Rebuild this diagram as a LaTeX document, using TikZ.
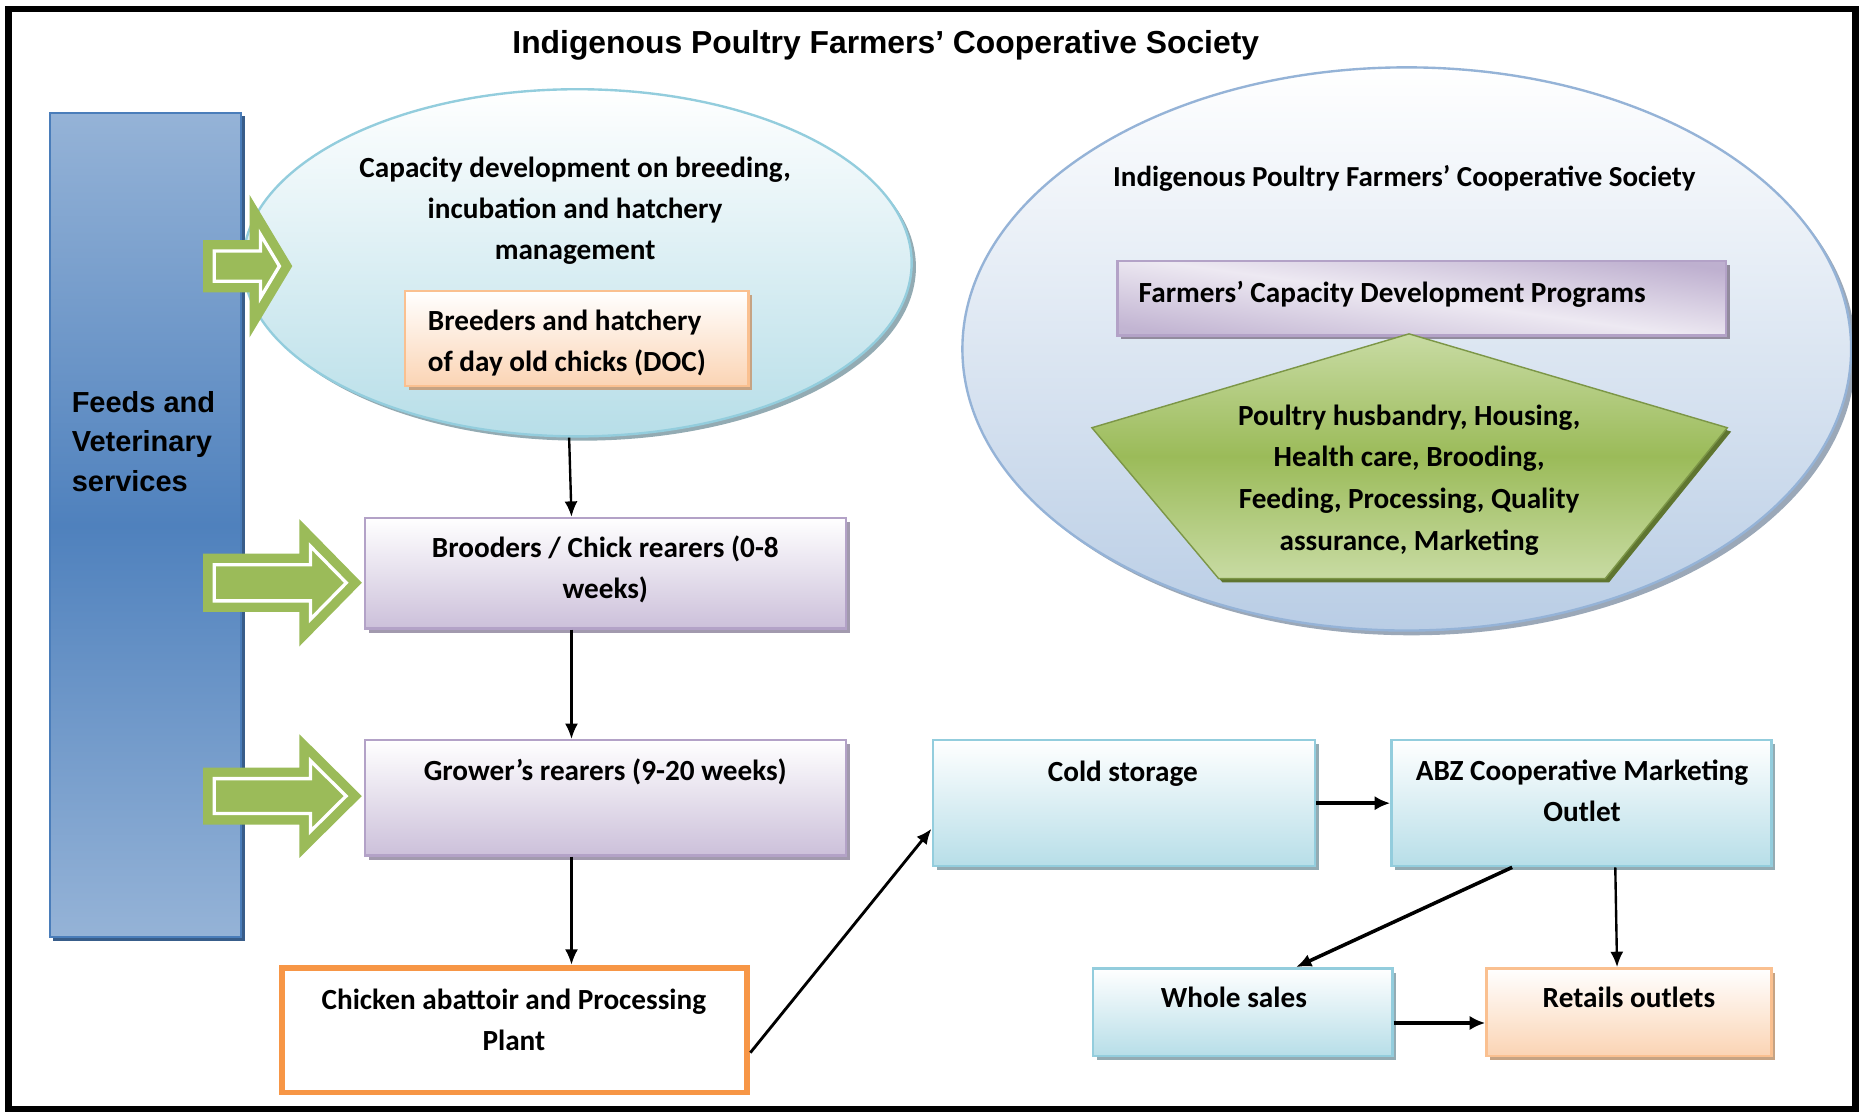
\documentclass[tikz,border=0pt]{standalone}
\usepackage{fontspec}
\usetikzlibrary{shapes.geometric,arrows.meta,shadows}
\newfontfamily\calib{Carlito}
\newfontfamily\arialf{Liberation Sans}
\definecolor{lbFill}{HTML}{B7DEE8}
\definecolor{lbDraw}{HTML}{93CDDD}
\definecolor{lbShadow}{HTML}{93ABB3}
\definecolor{puFill}{HTML}{CCC0DA}
\definecolor{puDraw}{HTML}{B3A2C7}
\definecolor{puShadow}{HTML}{A29AAE}
\definecolor{peFill}{HTML}{FBD4B4}
\definecolor{peDraw}{HTML}{FAC090}
\definecolor{peShadow}{HTML}{C6A383}
\definecolor{barLight}{HTML}{95B3D7}
\definecolor{barDark}{HTML}{4F81BD}
\definecolor{barDraw}{HTML}{4A7DBA}
\definecolor{barShadow}{HTML}{385D8A}
\definecolor{socFill}{HTML}{B9CDE5}
\definecolor{socDraw}{HTML}{95B3D7}
\definecolor{socShadow}{HTML}{9BA8B8}
\definecolor{grn}{HTML}{9BBB59}
\definecolor{lgrn}{HTML}{C8DBA3}
\definecolor{dgrn}{HTML}{5F7530}
\definecolor{orng}{HTML}{F79646}
\newcommand{\ctext}[2]{\parbox[t]{#1}{\centering #2}}
\newcommand{\ltext}[2]{\parbox[t]{#1}{\raggedright #2}}
% x0 (tail), x1 (head back), x2 (tip), yc, shaft half height, head half height
\newcommand{\greenarrow}[6]{%
  \fill[grn] (#1,#4-#5) -- (#2,#4-#5) -- (#2,#4-#6) -- (#3,#4) -- (#2,#4+#6) -- (#2,#4+#5) -- (#1,#4+#5) -- cycle;%
  \pgfmathsetmacro\gaD{9.3}%
  \pgfmathsetmacro\gaL{#3-#2}%
  \pgfmathsetmacro\gaE{sqrt(\gaL*\gaL+#6*#6)}%
  \pgfmathsetmacro\gaTip{#3-\gaD*\gaE/#6}%
  \pgfmathsetmacro\gaBarb{(\gaL-\gaD*\gaE/#6-\gaD)*#6/\gaL}%
  \pgfmathsetmacro\gaTail{#1+\gaD}%
  \pgfmathsetmacro\gaBack{#2+\gaD}%
  \pgfmathsetmacro\gaS{#5-\gaD}%
  \draw[grinner] (\gaTail,#4-\gaS) -- (\gaBack,#4-\gaS) -- (\gaBack,#4-\gaBarb) -- (\gaTip,#4) -- (\gaBack,#4+\gaBarb) -- (\gaBack,#4+\gaS) -- (\gaTail,#4+\gaS) -- cycle;%
}
\begin{document}
\begin{tikzpicture}[x=0.5pt,y=-0.5pt,
  txt/.style={font=\calib\bfseries\fontsize{12.3}{17.25}\selectfont, inner sep=0pt, anchor=base},
  titlefont/.style={font=\arialf\bfseries\fontsize{13.4}{16}\selectfont, inner sep=0pt, anchor=base},
  feedsfont/.style={font=\arialf\bfseries\fontsize{12.2}{16.7}\selectfont, inner sep=0pt, anchor=base west},
  basebox/.style={rectangle, inner sep=0pt, line width=1pt},
  bluebox/.style={basebox, draw=lbDraw, top color=white, bottom color=lbFill,
    general shadow={fill=lbShadow, shadow xshift=1.6pt, shadow yshift=-1.8pt}},
  purplebox/.style={basebox, draw=puDraw, top color=white, bottom color=puFill,
    general shadow={fill=puShadow, shadow xshift=1.6pt, shadow yshift=-1.8pt}},
  peachbox/.style={basebox, draw=peDraw, top color=white, bottom color=peFill,
    general shadow={fill=peShadow, shadow xshift=1.6pt, shadow yshift=-1.8pt}},
  grinner/.style={draw=white, fill=grn, line width=1.4pt, line join=miter},
  conn/.style={-{Latex[length=6.5pt,width=5.5pt]}, line width=1pt},
  thickconn/.style={-{Latex[length=6.5pt,width=6pt]}, line width=1.8pt}
]
\useasboundingbox (0,0) rectangle (1568,936);
\fill[white] (0,0) rectangle (1568,936);

% title
\node[titlefont] (title) at (745.5,45) {Indigenous Poultry Farmers’ Cooperative Society};

% left bar
\node[rectangle, inner sep=0pt, draw=barDraw, line width=0.8pt, minimum width=80.5pt, minimum height=347pt,
  top color=barLight, bottom color=barLight, middle color=barDark,
  general shadow={fill=barShadow, shadow xshift=1.5pt, shadow yshift=-1.5pt}] (feeds) at (122.5,442) {};
\node[feedsfont] (feedstxt) at (60,347) {\ltext{75pt}{Feeds and\\Veterinary\\services}};

% capacity ellipse
\node[ellipse, inner sep=0pt, draw=lbDraw, line width=1pt, minimum width=281.3pt, minimum height=146.1pt,
  top color=white, bottom color=lbFill,
  general shadow={fill=lbShadow, shadow xshift=1.8pt, shadow yshift=-1.8pt}] (capdev) at (486,221.2) {};
\node[txt] (capdevtxt) at (484,149.3) {\ctext{220pt}{Capacity development on breeding,\\incubation and hatchery\\management}};
\node[peachbox, minimum width=144.5pt, minimum height=40pt] (breeders) at (485.5,285) {};
\node[txt, anchor=base west] (breederstxt) at (359.7,277.8) {\ltext{140pt}{Breeders and hatchery\\of day old chicks (DOC)}};

% rearing chain
\node[purplebox, minimum width=202.5pt, minimum height=46.5pt] (brooders) at (509.5,482.5) {};
\node[txt] (broodertxt) at (509.5,469) {\ctext{200pt}{Brooders / Chick rearers (0-8\\weeks)}};
\node[purplebox, minimum width=202.5pt, minimum height=48.5pt] (grower) at (509.5,671.5) {};
\node[txt] (growertxt) at (509.5,657) {Grower’s rearers (9-20 weeks)};
\node[rectangle, inner sep=0pt, draw=orng, line width=2.5pt, fill=white, minimum width=196pt, minimum height=52.5pt] (abattoir) at (433,867) {};
\node[txt] (abattoirtxt) at (432.5,850) {\ctext{190pt}{Chicken abattoir and Processing\\Plant}};

% marketing chain
\node[bluebox, minimum width=161pt, minimum height=53pt] (cold) at (946,676) {};
\node[txt] (coldtxt) at (945,657.7) {Cold storage};
\node[bluebox, minimum width=160pt, minimum height=53pt] (abz) at (1331,676) {};
\node[txt] (abztxt) at (1331.5,657) {\ctext{158pt}{ABZ Cooperative Marketing\\Outlet}};
\node[bluebox, minimum width=126pt, minimum height=36.8pt] (whole) at (1046,851.8) {};
\node[txt] (wholetxt) at (1038.5,848) {Whole sales};
\node[peachbox, minimum width=120pt, minimum height=36.8pt] (retail) at (1371,851.8) {};
\node[txt] (retailtxt) at (1371,848) {Retails outlets};

% society ellipse
\node[ellipse, inner sep=0pt, draw=socDraw, line width=1pt, minimum width=374pt, minimum height=237pt,
  top color=white, bottom color=socFill,
  general shadow={fill=socShadow, shadow xshift=2pt, shadow yshift=-2pt}] (society) at (1184,293.7) {};
\node[txt, font=\calib\bfseries\fontsize{12.2}{17.25}\selectfont] (societytxt) at (1182,156.7) {Indigenous Poultry Farmers’ Cooperative Society};
\node[rectangle, inner sep=0pt, draw=puDraw, line width=1pt, minimum width=256.2pt, minimum height=31.25pt,
  top color=puDraw!85, bottom color=puDraw!80, middle color=puFill!35, shading angle=-8,
  general shadow={fill=puShadow!90!black, shadow xshift=1.6pt, shadow yshift=-1.6pt}] (programs) at (1196.6,251.1) {};
\node[txt, anchor=base west] (programstxt) at (958,255) {Farmers’ Capacity Development Programs};
\draw[draw=grn!80!black, line width=0.6pt, top color=lgrn, bottom color=lgrn, middle color=grn,
  general shadow={fill=dgrn, shadow xshift=1.6pt, shadow yshift=-1.6pt}]
  (1185.9,281) -- (1453.8,360) -- (1351,487) -- (1025.7,487) -- (919,360) -- cycle;
\node[txt, font=\calib\bfseries\fontsize{12.3}{17.5}\selectfont] (topicstxt) at (1186,358) {\ctext{200pt}{Poultry husbandry, Housing,\\Health care, Brooding,\\Feeding, Processing, Quality\\assurance, Marketing}};

% green block arrows
\greenarrow{171}{210}{246}{224}{22}{60}
\greenarrow{171}{252}{304.5}{490.5}{24.5}{53.5}
\greenarrow{171}{252}{304.5}{670}{24}{52}

% connectors
\draw[conn] ([xshift=-3.5pt]capdev.south) -- ([xshift=-14.25pt]brooders.north);
\draw[conn] ([xshift=-14.25pt]brooders.south) -- ([xshift=-14.25pt]grower.north);
\draw[conn] ([xshift=-14.25pt]grower.south) -- ([xshift=-14.25pt]grower.south |- abattoir.north);
\draw[conn, line width=1.2pt] ([yshift=-9.5pt]abattoir.east) -- ([yshift=-10.75pt]cold.west);
\draw[thickconn] (cold.east) -- (abz.west);
\draw[conn, line width=1.5pt] ([xshift=-29.15pt]abz.south) -- ([xshift=22.4pt]whole.north);
\draw[conn] ([xshift=14.25pt]abz.south) -- ([xshift=-5pt]retail.north);
\draw[thickconn] ([yshift=-4.6pt]whole.east) -- ([yshift=-4.6pt]whole.east -| retail.west);

% frame
\draw[line width=2.7pt] (7,7.8) rectangle (1561.5,933.5);
\end{tikzpicture}
\end{document}
